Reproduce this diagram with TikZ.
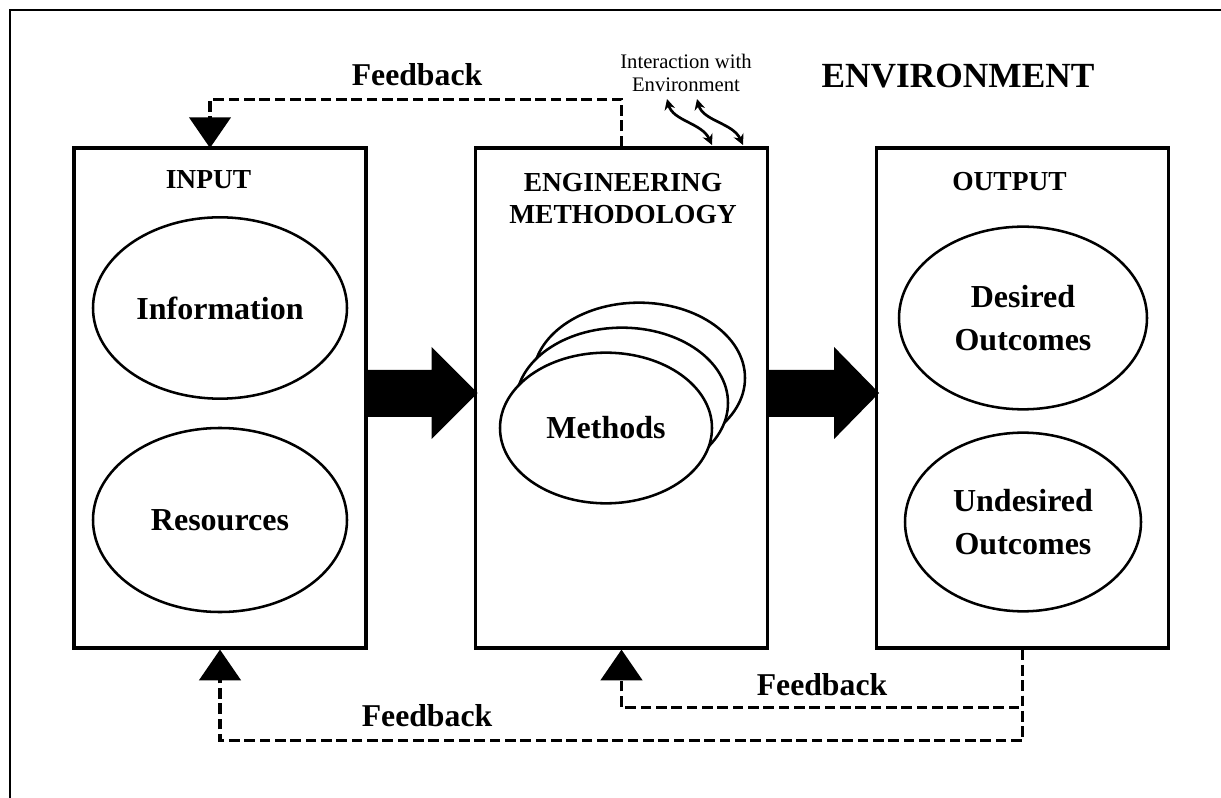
\documentclass[tikz,border=0pt]{standalone}
\usepackage{fontspec}
\setmainfont{Liberation Serif}
\usetikzlibrary{arrows.meta,shapes.geometric}

\tikzset{
  block/.style={draw, line width=2.4pt, minimum width=219pt, minimum height=375pt, inner sep=0pt},
  oval/.style={draw, ellipse, fill=white, line width=1.9pt, inner sep=0pt, align=center, font=\fontsize{24}{32}\selectfont\bfseries},
  methodoval/.style={oval, minimum width=159pt, minimum height=113pt},
  title/.style={align=center, inner sep=0pt, font=\fontsize{20.6}{24}\selectfont\bfseries},
  feedback/.style={line width=2.4pt, dash pattern=on 8pt off 3.5pt, -{Triangle[width=31pt,length=23pt]}},
  fbtext/.style={inner sep=0pt, font=\fontsize{23.8}{28}\selectfont\bfseries},
  wave/.style={line width=2pt, {Stealth[length=8pt,width=8pt]}-{Stealth[length=8pt,width=8pt]}},
}

\begin{document}
\begin{tikzpicture}[x=0.75pt,y=-0.75pt]
	\useasboundingbox (0,0) rectangle (1221,798);
	\draw[line width=1.6pt] (10,798) -- (10,10) -- (1221,10);

	\node[block] (input) at (220,398) {};
	\node[block] (method) at (621.5,398) {};
	\node[block] (output) at (1022.5,398) {};

	\node[title] (inputtitle) at (208.5,180) {INPUT};
	\node[title] (methodtitle) at (623,199) {ENGINEERING\\METHODOLOGY};
	\node[title] (outputtitle) at (1009.5,182) {OUTPUT};

	\node[oval, minimum width=190.5pt, minimum height=136pt] (info) at (220,308) {Information};
	\node[oval, minimum width=190.5pt, minimum height=138pt] (res) at (220,520) {Resources};

	\node[methodoval] (meth3) at (639,378) {};
	\node[methodoval] (meth2) at (622,403) {};
	\node[methodoval] (meth1) at (606,428) {Methods};

	\node[oval, minimum width=186pt, minimum height=137pt] (desired) at (1023,318) {Desired\\Outcomes};
	\node[oval, minimum width=177pt, minimum height=134pt] (undesired) at (1023,522) {Undesired\\Outcomes};

	\fill ([yshift=21pt]input.east) -- ++(64,0) -- ++(0,-23) -- ++(46,46) -- ++(-46,46) -- ++(0,-22) -- ++(-64,0) -- cycle;
	\fill ([yshift=21pt]method.east) -- ++(65,0) -- ++(0,-23) -- ++(45,46) -- ++(-45,46) -- ++(0,-22) -- ++(-65,0) -- cycle;

	\coordinate (fbin) at (210,148);
	\draw[feedback] (method.north) -- ++(0,-47) -| (fbin);
	\draw[feedback] (output.south) -- ++(0,58) -| (method.south);
	\draw[feedback] (output.south) -- ++(0,91) -| (input.south);

	\node[fbtext] (fbtoplabel) at (417,75) {Feedback};
	\node[fbtext] (fbmidlabel) at (822,685) {Feedback};
	\node[fbtext] (fblowlabel) at (427,716) {Feedback};

	\coordinate (w1a) at (667,99);
	\coordinate (w1b) at (712,145);
	\coordinate (w2a) at (697,99);
	\coordinate (w2b) at (743,145);
	\draw[wave] (w1a) .. controls +(6,22) and +(-10,-22) .. (w1b);
	\draw[wave] (w2a) .. controls +(6,22) and +(-10,-22) .. (w2b);

	\node[align=center, inner sep=0pt, font=\fontsize{15.5}{17.5}\selectfont] (envnote) at (686,73) {Interaction with\\Environment};
	\node[inner sep=0pt, font=\fontsize{26.5}{30}\selectfont\bfseries] (env) at (958,76) {ENVIRONMENT};
\end{tikzpicture}
\end{document}
